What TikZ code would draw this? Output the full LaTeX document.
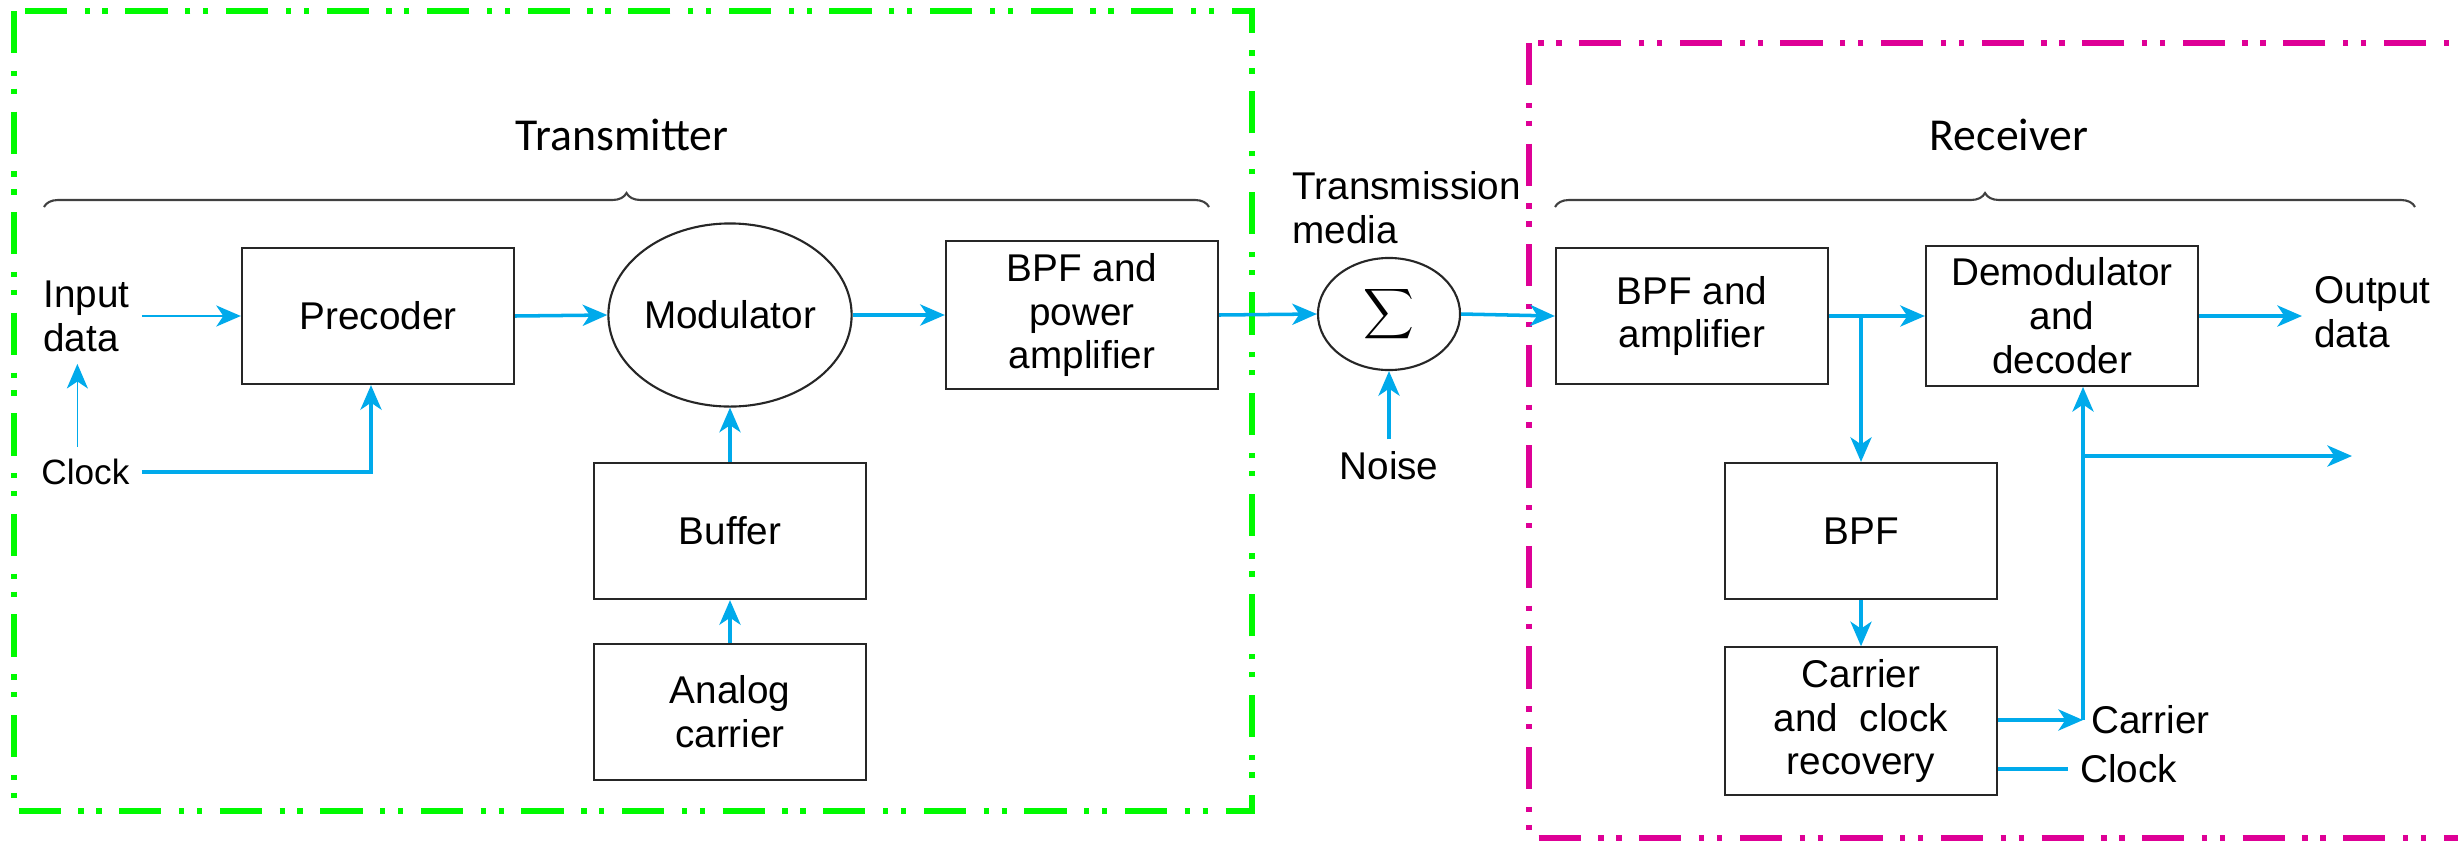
\documentclass[tikz,border=0pt]{standalone}
\usepackage{fontspec}
\setmainfont{Liberation Sans}
\newfontfamily\titlefont{Carlito}
\usetikzlibrary{shapes.geometric, arrows.meta, decorations.pathreplacing}

\definecolor{sigblue}{RGB}{0,170,235}
\definecolor{txgreen}{RGB}{0,250,0}
\definecolor{rxmagenta}{RGB}{222,0,150}

\tikzset{
    block/.style={draw=black!85, line width=0.6pt, minimum width=2.72cm,
        minimum height=1.36cm, align=center, font=\fontsize{11}{12.5}\selectfont},
    round/.style={block, ellipse, inner sep=0pt},
    lbl/.style={align=left, font=\fontsize{11}{12.5}\selectfont},
    sig/.style={draw=sigblue, line width=1pt, -{Stealth[length=7pt, width=6pt, inset=2pt]}},
    thinsig/.style={sig, line width=0.45pt},
    wire/.style={draw=sigblue, line width=1pt},
    frame/.style={line width=1.7pt, dash pattern=on 12pt off 5pt on 1.5pt off 3.6pt on 1.5pt off 5pt},
    bracket/.style={draw=black!75, line width=0.6pt, decorate, decoration={brace, amplitude=0.14cm}}
}

\begin{document}
\begin{tikzpicture}[x=0.01cm, y=-0.01cm]
    \useasboundingbox (0,0) rectangle (2458,842);

    % dash-dot-dot frames round both ends
    \draw[frame, txgreen] (14,11) rectangle (1252,811);
    \draw[frame, rxmagenta] (1529,43) rectangle (2490,838);

    % transmitter
    \node[block] (pre) at (378,316) {Precoder};
    \node[round, minimum width=2.37cm, minimum height=1.83cm] (mod) at (730,315) {Modulator};
    \node[block] (bpftx) at (1082,315) {BPF and\\power\\amplifier};
    \node[block] (buf) at (730,531) {Buffer};
    \node[block] (ana) at (730,712) {Analog\\carrier};
    \node[lbl, anchor=west] (indata) at (31,316) {Input\\data};
    \node[lbl, anchor=west, font=\fontsize{10}{11}\selectfont] (clkin) at (29,472) {Clock};

    % channel
    \node[round, minimum width=1.42cm, minimum height=1.12cm] (sum) at (1389,314)
        {\fontsize{10}{12}\selectfont$\displaystyle\sum$};
    \node[lbl, anchor=west] (media) at (1280,208) {Transmission\\media};
    \node[lbl] (noise) at (1389,466) {Noise};

    % receiver
    \node[block] (bpfrx) at (1692,316) {BPF and\\amplifier};
    \node[block] (dem) at (2062,316) {Demodulator\\and\\decoder};
    \node[block] (bpf) at (1861,531) {BPF};
    \node[block] (rec) at (1861,721) {Carrier\\and\ \ clock\\recovery};
    \node[lbl, anchor=west] (outdata) at (2302,312) {Output\\data};
    \node[lbl, anchor=west] (carlbl) at (2079,720) {Carrier};
    \node[lbl, anchor=west] (clklbl) at (2068,769) {Clock};
    \coordinate (cj) at (2083,720);
    \coordinate (outc) at (2352,456);

    \node[font=\titlefont\fontsize{13}{15}\selectfont] (txtitle) at (622,135) {Transmitter};
    \node[font=\titlefont\fontsize{13}{15}\selectfont] (rxtitle) at (2009,135) {Receiver};

    \draw[bracket] (44,207) -- (1209,207);
    \draw[bracket] (1555,207) -- (2415,207);

    % signal path
    \draw[thinsig] (indata.east |- pre.west) -- (pre.west);
    \draw[thinsig] ([xshift=-0.08cm]clkin.north) -- ([xshift=-0.08cm]clkin.north |- indata.south);
    \draw[sig] (clkin.east) -| ([xshift=-0.07cm]pre.south);
    \draw[sig] (pre.east) -- (mod.west);
    \draw[sig] (mod.east) -- (bpftx.west);
    \draw[sig] (buf.north) -- (mod.south);
    \draw[sig] (ana.north) -- (buf.south);
    \draw[sig] (bpftx.east) -- (sum.west);
    \draw[sig] (noise.north) -- (sum.south);
    \draw[sig] (sum.east) -- (bpfrx.west);
    \draw[sig] (bpfrx.east) -- (dem.west);
    \draw[sig] (bpfrx.east -| bpf.north) -- (bpf.north);
    \draw[sig] (bpf.south) -- (rec.north);
    \draw[sig] (dem.east) -- (outdata.west |- dem.east);
    \draw[sig] (rec.east |- cj) -- (cj);
    \draw[sig] (cj) -- (cj |- dem.south);
    \draw[sig] (outc -| cj) -- (outc);
    \draw[wire] (rec.east |- clklbl.west) -- (clklbl.west);

\end{tikzpicture}
\end{document}
